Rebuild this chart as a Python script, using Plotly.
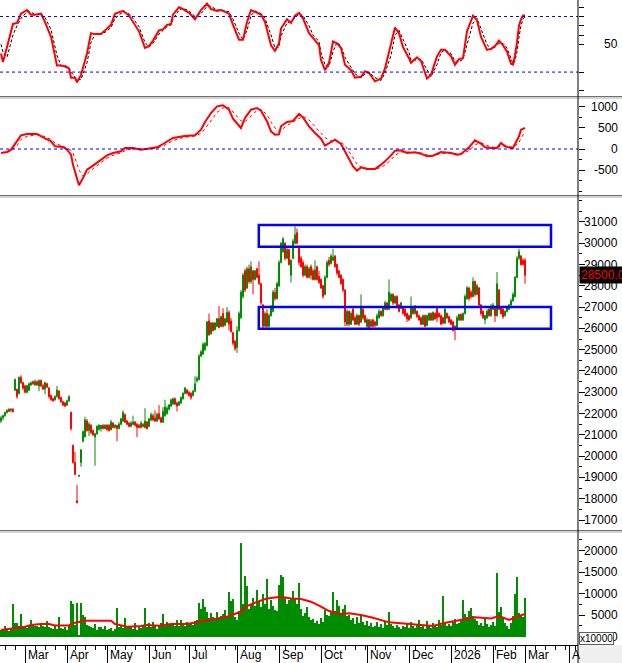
import plotly.graph_objects as go
from plotly.subplots import make_subplots

# ---------------- data ----------------
opens = [21650,21800,21900,22050,22200,22150,22200,23100,23150,22950,
 23700,23450,23300,23000,23100,23350,23500,23350,23500,23300,
 23550,23300,23150,23400,23200,22850,22700,22650,22800,23050,
 22750,22550,22500,22400,22600,22050,20500,19700,17900,19050,
 19700,20700,20900,21650,21200,21450,21200,20900,21050,21250,
 21300,21450,21300,21450,21450,21250,21550,21350,21450,21300,
 21500,21650,21950,21650,21550,21400,21500,21600,21500,21450,
 21350,21500,21350,21600,21400,21700,21900,21800,21650,22000,
 21800,21600,21900,22000,22200,22350,22450,22700,22500,22400,
 22500,22700,22950,23100,23000,22950,22850,23050,23550,23600,
 24700,24800,25000,25200,26350,25750,26250,25950,26100,26450,
 26100,26700,26150,26300,26750,26350,25800,25400,25100,25900,
 26500,27500,28700,27900,28800,28200,28700,28300,28800,28500,
 28100,27100,26100,26700,26100,26600,26800,27700,27400,28000,
 29100,29600,30000,29300,29700,28500,29300,30000,30500,29850,
 29300,29100,28500,28900,28400,28900,28700,28300,28900,28450,
 28300,28000,27600,28400,29200,29050,29200,29400,29000,28700,
 28500,28300,27800,26200,26800,26200,26900,26500,26200,26600,
 26300,26900,26600,26100,26400,26100,26400,26300,26150,26500,
 26800,26600,26900,27200,26900,27300,27600,27200,27500,27100,
 26950,27000,26900,26700,26600,26500,26950,26700,26800,26600,
 26500,26200,26600,26150,26400,26700,26400,26700,26950,26700,
 26600,26500,26250,26700,26550,26400,26300,26100,26000,26400,
 26650,26400,26700,27400,27900,27700,27500,28200,27600,27900,
 27100,26800,26400,26500,26900,26600,26900,27000,26600,27800,
 27000,26900,26600,26800,26900,27100,27300,27500,28400,29300,
 29400,29200,29200]
highs = [21900,21950,22100,22200,22250,22250,22250,23650,23150,23750,
 23800,23500,23350,23350,23450,23500,23550,23600,23550,23600,
 23600,23400,23500,23450,23250,22900,22750,22850,23300,23100,
 22800,22600,22550,22650,22850,22100,20550,20200,18650,19100,
 20300,21200,21850,21750,21600,21500,21250,21100,21450,21500,
 21450,21500,21500,21500,21500,21700,21600,21500,21450,21600,
 21800,22150,22000,21700,21600,21650,21900,21650,21550,21500,
 21650,21550,22250,21650,21800,22050,22000,22150,22050,22400,
 21850,22300,22650,22350,22450,22700,22750,22750,22550,22600,
 22800,23000,23250,23150,23050,23000,23100,23750,23750,24800,
 25000,25350,25350,26350,26700,26300,26300,26300,26500,27050,
 26600,26950,26500,27000,26850,26500,25850,25450,26100,26800,
 27800,28600,28800,28900,29000,29150,28750,28750,28850,29150,
 28150,27150,26800,26900,26700,27100,27800,27900,28200,29200,
 30050,30300,30050,29800,29750,29250,30200,30800,30700,29900,
 29400,29200,29000,29000,28900,29000,28800,29200,28950,28700,
 28350,28050,28500,29200,29350,29500,29750,29450,29050,28750,
 28550,28350,27850,26900,26850,26800,27000,26600,26700,26650,
 27600,26950,26650,26500,26450,26450,26450,26350,26700,26900,
 26850,27050,27300,27250,28300,27650,27650,27550,27550,27150,
 27250,27050,26950,26750,26650,27500,27000,27100,26850,26650,
 26550,26650,26650,26650,26750,26750,26800,26750,27000,26750,
 26650,26550,27050,26750,26600,26450,26350,26150,26600,26700,
 26700,26750,27600,28000,27950,27800,28400,28250,28100,27950,
 27150,26850,26650,26900,26950,27150,27200,27050,28650,27850,
 27050,26950,26850,27050,27150,27400,27700,28450,29400,29750,
 29450,29300,29300]
lows = [21550,21700,21850,22000,22100,22050,22050,23050,22700,22900,
 23400,23100,22950,22950,23050,23300,23350,23300,23300,23050,
 23250,23100,22900,23200,22700,22600,22550,22600,22750,22650,
 22500,22350,22300,22350,22550,21200,19650,19100,17800,19050,
 19500,20650,20900,21150,20950,21050,20950,19550,21000,21200,
 21150,21250,21250,21200,21150,21200,21300,21300,20700,21250,
 21450,21600,21550,21450,21350,21350,21450,21400,20900,21300,
 21300,21350,21300,21250,21350,21650,21650,21600,21600,21700,
 21550,21550,21850,21950,22150,22300,22400,22400,22100,22350,
 22450,22650,22900,22900,22800,22650,22800,23000,23450,23550,
 24650,24750,24950,25150,25650,25700,25850,25900,26050,26000,
 26050,26050,26100,26250,25900,25800,25200,24950,24850,25850,
 26450,27400,27700,27850,28100,28100,27600,28250,28350,28050,
 27100,26000,26050,26000,26050,26550,26750,27300,27350,27950,
 29050,29550,29200,29250,28950,28150,29250,29950,29950,28950,
 28850,28400,28450,28350,28350,28300,28250,28250,28250,28100,
 27850,27400,27550,28350,28900,29000,29150,28850,28500,28350,
 28050,27700,26100,26100,26100,26150,26350,26150,26150,26100,
 26250,26400,26250,26000,25950,26050,26050,26050,26100,26450,
 26550,26550,26850,26850,26850,27250,27100,27150,26950,26750,
 26900,26650,26550,26300,26350,26450,26650,26650,26500,26350,
 26150,26150,26050,26100,26350,26350,26350,26400,26300,26500,
 26150,26200,26200,26450,26250,26150,25850,25450,25950,26350,
 26350,26350,26650,27350,27300,27400,27450,27500,27550,27000,
 26600,26450,26200,26450,26550,26550,26850,26300,26550,26850,
 26650,26450,26550,26750,26850,27050,27250,27450,28350,29200,
 28950,28950,28100]
closes = [21800,21900,22050,22150,22100,22200,22100,23600,22800,23700,
 23450,23200,23000,23300,23400,23450,23400,23500,23350,23550,
 23300,23150,23450,23250,22800,22650,22600,22800,23100,22700,
 22550,22400,22350,22600,22800,21300,19700,19150,17800,19100,
 20300,21150,21700,21200,21500,21100,21000,21050,21400,21450,
 21450,21300,21450,21250,21200,21600,21350,21450,21300,21500,
 21750,22050,21600,21500,21400,21550,21600,21450,21350,21350,
 21550,21400,21650,21300,21750,21950,21700,21650,21950,21750,
 21600,22100,22300,22250,22400,22650,22700,22450,22350,22550,
 22750,22950,23200,22950,22850,22750,23050,23400,23650,24700,
 24900,25250,25300,26300,25700,26250,25900,26250,26450,26050,
 26550,26100,26450,26750,26200,25850,25300,25050,25900,26700,
 27700,28500,27800,28800,28200,28900,28300,28700,28400,28100,
 27200,26100,26700,26100,26600,27000,27700,27400,28100,29100,
 30000,30200,29300,29700,29000,29200,30100,30400,30000,29100,
 28900,28500,28900,28400,28800,28500,28300,28750,28300,28150,
 27900,27500,28400,29100,29000,29400,29350,28900,28600,28400,
 28100,27800,26300,26800,26200,26700,26400,26200,26600,26200,
 27000,26500,26300,26400,26050,26350,26100,26150,26600,26800,
 26600,26950,27200,26900,27700,27600,27200,27500,27000,26800,
 27200,26700,26600,26450,26400,26950,26700,27050,26550,26400,
 26200,26600,26100,26600,26700,26400,26750,26450,26500,26550,
 26200,26250,26900,26500,26300,26200,25900,26000,26500,26650,
 26400,26700,27500,27900,27400,27500,28200,27600,28000,27100,
 26700,26500,26600,26800,26600,27000,27100,26600,28100,26900,
 26700,26550,26800,27000,27100,27300,27600,28400,29300,29600,
 29000,29000,28500]
volumes = [1500,1800,2500,1600,1300,1900,7600,3200,3300,2600,
 5200,2400,2200,2000,2600,3900,2800,2400,2600,2300,
 3000,2500,2200,3600,2200,2000,1700,2400,1800,4600,
 2100,1800,2300,1600,2400,8300,7700,2800,7900,400,
 7900,5000,4600,2800,2500,2200,2000,2900,1600,2300,
 2200,1700,2500,1600,1900,2100,1400,1800,6600,2300,
 2800,2000,4300,2400,2200,2600,1800,3100,1500,2300,
 2000,2500,6600,2300,3100,2200,3500,2600,1900,2800,
 3200,5300,2400,3400,2900,2800,3300,2600,3900,2400,
 3900,2900,2600,3500,3100,3200,2800,3700,4000,7900,
 6500,8700,7000,5800,4300,5500,4600,4000,5800,4300,
 4700,5200,6200,4800,10300,8300,8700,4500,3900,6000,
 21700,7500,14200,11800,6500,7400,9000,7200,10900,8000,
 7000,9900,7600,13400,6500,8500,7200,6300,5900,12000,
 14300,14000,9200,7700,8500,8700,10700,9000,7500,12500,
 6500,4800,5600,7000,4500,3800,4200,3200,3600,3000,
 4300,3500,6200,5100,4800,5700,10500,6000,8500,7200,
 5500,6400,7400,4800,5100,3800,4300,2900,4600,3300,
 5000,3400,2800,3600,2500,3100,2200,2600,3400,2300,
 2900,2000,3500,2700,5800,3000,2400,2100,2800,2300,
 1900,2600,2200,3300,2000,3400,2500,2100,3000,4000,
 2300,2700,1800,3600,2500,2100,3100,2600,2200,3800,
 2700,9400,3200,2400,3000,2600,3500,4200,2900,3300,
 3700,8500,5300,4600,6000,6600,4800,4200,3600,2800,
 3200,2400,4400,3000,2300,2700,3400,2500,14900,5800,
 6800,4300,3200,2500,1900,3300,4800,10000,13900,5400,
 5000,4600,8900]

vol_ma_days = [0,6,12,15,20,24,27,34,37,42,55,57,63,70,73,79,85,93,100,106,113,120,123,128,133,
               140,145,150,155,160,164,170,174,180,186,194,202,210,216,221,227,233,237,245,249,254,257,262]
vol_ma = [1550,1940,2300,2700,2950,2950,2600,2600,3250,3700,3700,2950,2300,2500,2700,2560,2950,2950,
          3500,4000,4650,5800,7100,8100,8900,9300,8900,8750,8140,6980,5970,5280,5430,5050,4420,3340,
          2950,2720,2490,3110,3650,4260,4500,4260,4810,3880,4500,5280]

stoch_days = [0,1,3,6,8,10,13,15,17,20,22,25,28,30,32,34,35,37,38,40,43,45,47,50,52,55,57,61,64,66,
              69,72,74,76,79,81,83,85,86,89,91,94,97,100,103,105,108,110,114,116,119,121,123,125,127,
              130,132,135,137,139,140,143,145,147,149,151,154,156,159,160,162,164,166,168,170,172,175,
              177,180,182,184,187,190,192,195,197,199,201,204,205,208,210,213,215,218,220,222,225,227,
              229,231,233,236,238,240,243,245,247,249,251,253,255,256,257,258,259,260,261,262]
stoch_k = [40,31,47,72,73,83,87,82,82,83,74,58,27,27,26,24,14,14,9,17,40,62,61,61,65,71,83,86,81,74,
           64,46,48,54,65,66,71,72,82,90,88,84,77,87,94,88,86,87,83,71,55,55,74,87,85,
           82,74,49,43,51,67,77,73,81,84,78,62,57,49,33,22,30,53,51,46,28,22,
           14,15,21,19,10,13,24,51,68,62,47,35,30,36,32,13,17,37,44,44,37,28,
           34,35,64,81,76,58,44,45,48,54,49,42,29,28,38,52,70,77,81,81]
stoch_d = [50,42,36,60,70,78,85,85,82,83,79,66,38,27,27,25,20,14,12,12,30,52,61,61,63,68,78,85,83,78,
           69,52,47,51,61,65,69,71,77,87,89,86,80,83,91,91,87,87,85,77,62,55,65,81,86,
           83,78,60,46,47,59,73,75,78,83,81,70,60,53,41,28,26,42,52,48,36,25,
           18,14,18,20,14,11,19,38,60,65,55,41,33,33,34,22,15,28,41,44,40,32,
           31,34,50,73,78,67,50,44,47,51,51,46,35,29,32,42,58,70,77,80]

macd_days = [0,3,5,8,10,13,18,21,25,27,31,33,35,36,38,39,41,43,46,50,53,56,60,62,66,70,73,78,81,86,91,97,
             100,102,105,108,111,114,116,120,122,125,128,130,133,135,137,139,140,143,146,149,151,154,157,
             160,162,165,167,170,172,174,176,178,180,183,187,190,192,195,197,200,203,207,210,213,216,220,
             223,225,228,230,234,237,240,242,245,248,250,252,255,256,259,260,262]
macd_line = [-95,-71,-16,183,325,357,357,278,183,63,48,-16,-135,-373,-690,-865,-690,-492,-397,-254,-151,
             -95,-56,24,24,-16,8,40,119,262,302,325,460,643,857,1016,1040,936,722,500,738,936,976,912,
             660,421,341,349,540,643,667,833,754,540,381,246,79,159,222,119,-56,-254,-413,-516,-437,
             -476,-476,-373,-294,-151,-40,-32,-95,-80,-111,-175,-159,-71,-80,-95,-135,-119,40,206,127,
             40,24,24,143,63,24,24,302,460,500]
macd_signal = [-85,-78,-50,80,230,300,340,310,230,140,60,30,-30,-100,-350,-500,-640,-600,-470,-330,-220,
               -150,-90,-40,10,0,0,25,70,200,270,310,370,480,680,870,980,990,880,670,650,780,920,940,
               820,640,500,420,440,560,640,740,780,690,540,390,270,190,190,170,80,-60,-220,-360,-430,
               -460,-480,-440,-380,-260,-150,-70,-70,-80,-95,-140,-160,-110,-90,-90,-115,-120,-40,100,150,
               100,50,30,80,90,50,40,150,260,400]

month_days = [12, 33, 53, 74, 94, 118, 139, 160, 183, 204, 225, 246, 262, 284]
month_labels = ["Mar", "Apr", "May", "Jun", "Jul", "Aug", "Sep", "Oct", "Nov", "Dec", "2026", "Feb", "Mar", "A"]

stoch_levels = [20, 80]
stoch_ticks = [0, 20, 50, 60, 70, 80, 90]
stoch_labels = {50: "50"}
macd_levels = [0]
macd_ticks = [-500, 0, 500, 1000]
price_ticks = list(range(17000, 31001, 1000))
vol_ticks = [0, 5000, 10000, 15000, 20000]

box_day_span = [128.9, 275.0]
box_price_ranges = [[29840, 30860], [25990, 27010]]
last_price = 28500
last_price_label = "28500.00"
vol_unit_label = "x10000"

# ---------------- layout constants (pixels) ----------------
W, H = 622, 663
PLOT_R = 578
PLOT_B = 645
GREEN = "#008c00"
RED = "#ff0000"
BLUE = "#0000ff"
FONT = "Arial, Liberation Sans, sans-serif"

def py(p):
    return (PLOT_B - p) / PLOT_B

def px(p):
    return p / PLOT_R

days = list(range(len(closes)))

fig = make_subplots(rows=4, cols=1, shared_xaxes=True, vertical_spacing=0.0)

# oscillator
fig.add_trace(go.Scatter(x=stoch_days, y=stoch_d, mode="lines",
                         line=dict(color="black", width=1, dash="3px,2px")), row=1, col=1)
fig.add_trace(go.Scatter(x=stoch_days, y=stoch_k, mode="lines",
                         line=dict(color=RED, width=2)), row=1, col=1)
# macd
fig.add_trace(go.Scatter(x=macd_days, y=macd_signal, mode="lines",
                         line=dict(color=RED, width=1, dash="3px,3px")), row=2, col=1)
fig.add_trace(go.Scatter(x=macd_days, y=macd_line, mode="lines",
                         line=dict(color=RED, width=2)), row=2, col=1)
# price
fig.add_trace(go.Candlestick(x=days, open=opens, high=highs, low=lows, close=closes,
                             increasing=dict(line=dict(color=GREEN, width=1), fillcolor=GREEN),
                             decreasing=dict(line=dict(color=RED, width=1), fillcolor=RED),
                             whiskerwidth=0), row=3, col=1)
# volume
fig.add_trace(go.Bar(x=days, y=volumes, marker=dict(color=GREEN, line=dict(width=0)), width=1.0),
              row=4, col=1)
fig.add_trace(go.Scatter(x=vol_ma_days, y=vol_ma, mode="lines",
                         line=dict(color=RED, width=2)), row=4, col=1)

panels = {1: (0, 96), 2: (99, 195), 3: (198, 530), 4: (533, 645)}
ranges = {1: [-5.8, 97.8], 2: [-1095, 1190], 3: [16530, 32127], 4: [-1930, 24116]}

xr = [-0.5, 288.5]
for r in range(1, 5):
    top, bot = panels[r]
    yname = "yaxis" if r == 1 else f"yaxis{r}"
    xname = "xaxis" if r == 1 else f"xaxis{r}"
    fig.layout[yname].update(domain=[py(bot), py(top)], range=ranges[r], side="right",
                             showgrid=False, zeroline=False, showline=False,
                             showticklabels=False, ticks="outside", ticklen=6,
                             tickcolor="black", fixedrange=True)
    fig.layout[xname].update(range=xr, showgrid=False, zeroline=False, showticklabels=False,
                             rangeslider=dict(visible=False), ticks="", showline=False)

fig.layout.yaxis.update(tickmode="array", tickvals=stoch_ticks, ticklen=5)
fig.layout.yaxis2.update(tickmode="array", tickvals=macd_ticks,
                         minor=dict(ticks="outside", ticklen=3, tickcolor="black", tickmode="linear",
                                    tick0=0, dtick=250))
fig.layout.yaxis3.update(tickmode="array", tickvals=price_ticks,
                         minor=dict(ticks="outside", ticklen=3, tickcolor="black", tickmode="linear",
                                    tick0=0, dtick=500))
fig.layout.yaxis4.update(tickmode="array", tickvals=vol_ticks,
                         minor=dict(ticks="outside", ticklen=3, tickcolor="black", tickmode="linear",
                                    tick0=0, dtick=2500))
fig.layout.xaxis4.update(showline=True, linecolor="black", linewidth=1, ticks="outside",
                         tickmode="array", tickvals=month_days, ticklen=18, tickcolor="black",
                         minor=dict(ticks="outside", ticklen=4, tickcolor="black", tickmode="linear",
                                    tick0=2, dtick=5))

shapes = []
# reference dashed lines
for lv in stoch_levels:
    shapes.append(dict(type="line", xref="paper", yref="y", x0=0, x1=1, y0=lv, y1=lv,
                       line=dict(color=BLUE, width=1, dash="3px,3px")))
for lv in macd_levels:
    shapes.append(dict(type="line", xref="paper", yref="y2", x0=0, x1=1, y0=lv, y1=lv,
                       line=dict(color=BLUE, width=1, dash="3px,3px")))
# blue boxes
for lo, hi in box_price_ranges:
    shapes.append(dict(type="rect", xref="x3", yref="y3", x0=box_day_span[0], x1=box_day_span[1],
                       y0=lo, y1=hi, line=dict(color=BLUE, width=2.5), fillcolor="rgba(0,0,0,0)"))
# panel separators
for top in (96, 195, 530):
    shapes.append(dict(type="rect", xref="paper", yref="paper", x0=0, x1=px(W), y0=py(top + 3),
                       y1=py(top), fillcolor="#d4d4d4", line=dict(width=0), layer="above"))
    shapes.append(dict(type="line", xref="paper", yref="paper", x0=0, x1=px(W), y0=py(top + 0.5),
                       y1=py(top + 0.5), line=dict(color="#707070", width=1), layer="above"))
# bottom-right grey corner
shapes.append(dict(type="rect", xref="paper", yref="paper", x0=1, x1=px(W), y0=py(H), y1=py(PLOT_B),
                   fillcolor="#f0f0f0", line=dict(width=0)))
# right axis line
shapes.append(dict(type="line", xref="paper", yref="paper", x0=1, x1=1, y0=py(H), y1=1,
                   line=dict(color="black", width=1), layer="above"))

annotations = []
lab_x = px(620)
for v in stoch_ticks:
    if v in stoch_labels:
        annotations.append(dict(x=lab_x, y=v, xref="paper", yref="y", text=stoch_labels[v],
                                xanchor="right", yanchor="middle", showarrow=False,
                                font=dict(family=FONT, size=12, color="black")))
for v in macd_ticks:
    annotations.append(dict(x=lab_x, y=v, xref="paper", yref="y2", text=str(v),
                            xanchor="right", yanchor="middle", showarrow=False,
                            font=dict(family=FONT, size=12, color="black")))
for v in price_ticks:
    annotations.append(dict(x=lab_x, y=v, xref="paper", yref="y3", text=str(v),
                            xanchor="right", yanchor="middle", showarrow=False,
                            font=dict(family=FONT, size=12, color="black")))
for v in vol_ticks:
    annotations.append(dict(x=lab_x, y=v, xref="paper", yref="y4", text=str(v),
                            xanchor="right", yanchor="middle", showarrow=False,
                            font=dict(family=FONT, size=12, color="black")))
for d, t in zip(month_days, month_labels):
    annotations.append(dict(x=d, y=py(655), xref="x4", yref="paper", text=t, xanchor="left",
                            xshift=1, yanchor="middle", showarrow=False,
                            font=dict(family=FONT, size=12, color="black")))
annotations.append(dict(x=px(579), y=last_price, xref="paper", yref="y3", text=last_price_label,
                        xanchor="left", yanchor="middle", showarrow=False, bgcolor="black",
                        borderpad=1, font=dict(family=FONT, size=12, color=RED)))
annotations.append(dict(x=px(579), y=py(638), xref="paper", yref="paper", text=vol_unit_label,
                        xanchor="left", yanchor="middle", showarrow=False, bgcolor="white",
                        bordercolor="#606060", borderwidth=1, borderpad=0,
                        font=dict(family=FONT, size=10, color="black")))

fig.update_layout(width=W, height=H,
                  margin=dict(l=0, r=W - PLOT_R, t=0, b=H - PLOT_B, autoexpand=False),
                  paper_bgcolor="white", plot_bgcolor="white", showlegend=False,
                  boxgap=0.25, bargap=0, shapes=shapes, annotations=annotations,
                  hovermode=False)

page_fix = ("document.body.style.margin='0px';document.body.style.padding='0px';"
            "document.documentElement.style.overflow='hidden';document.body.style.overflow='hidden';")
fig.write_html("out.html", post_script=page_fix, config={"displayModeBar": False})
